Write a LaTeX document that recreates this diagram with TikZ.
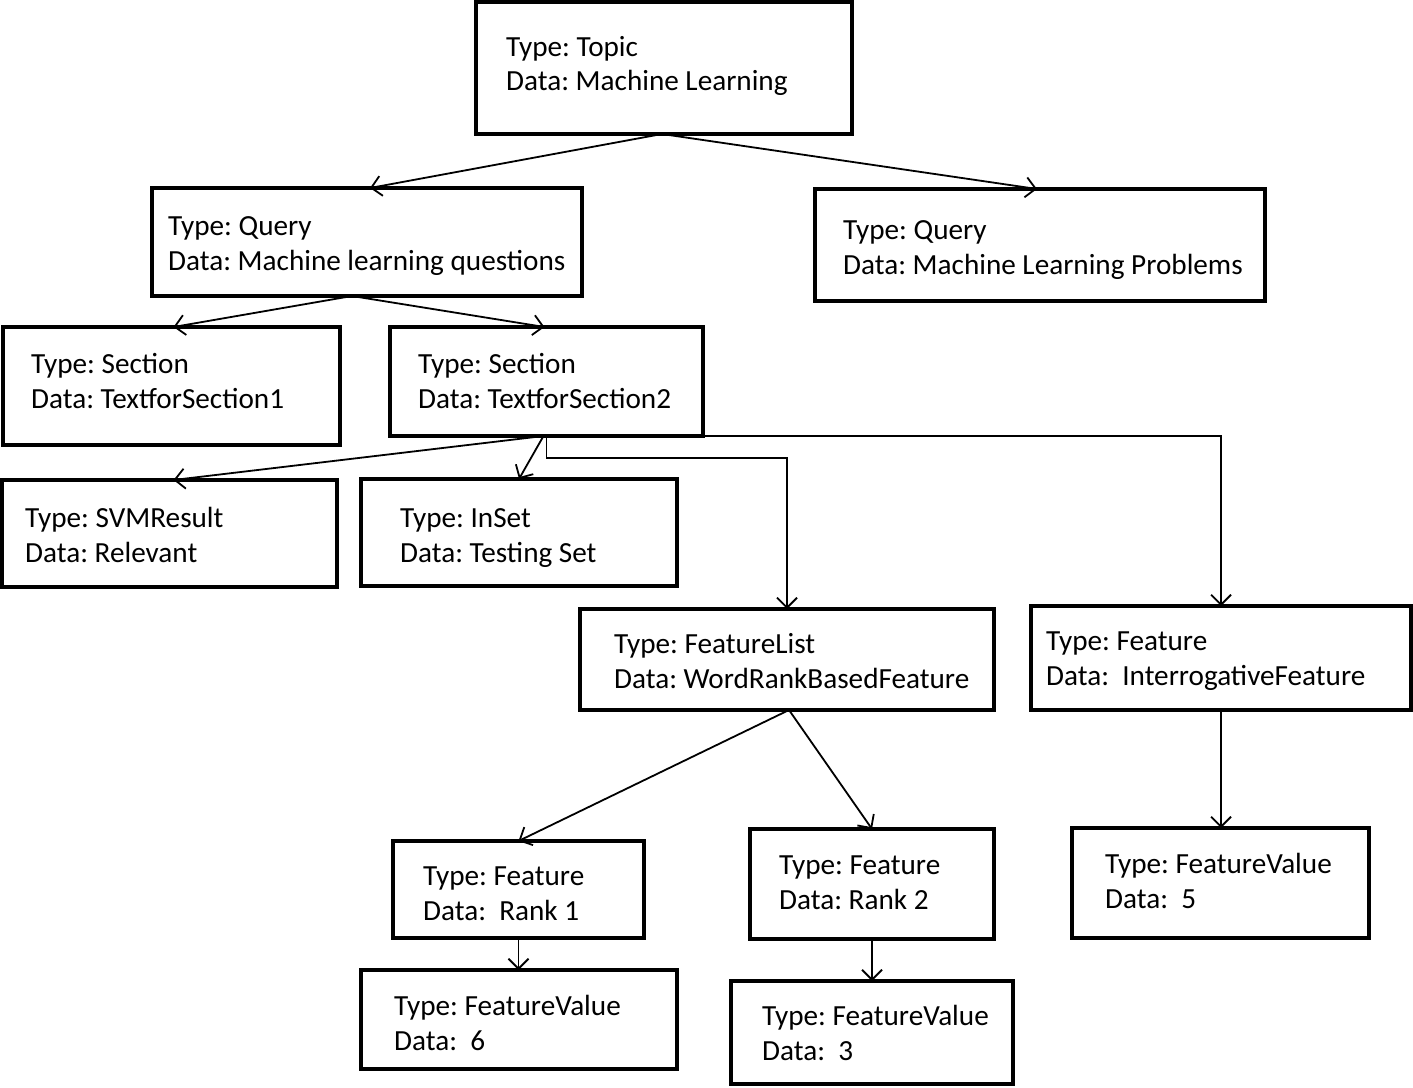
\documentclass[tikz,border=0pt]{standalone}
\usepackage{fontspec}
\setmainfont{Carlito}
\usetikzlibrary{calc,arrows.meta}
\frenchspacing
\begin{document}
\begin{tikzpicture}[x=1pt,y=-1pt,
  box/.style={draw,line width=3.8pt,rectangle,inner sep=0pt,outer sep=0pt},
  txt/.style={anchor=base west,align=left,inner sep=0pt,font=\frenchspacing\fontsize{29.2}{34.5}\selectfont},
  arr/.style={line width=1.8pt,-{Straight Barb[length=10pt,width=20pt,line width=1.8pt]}}]
\useasboundingbox (0,0) rectangle (1413,1087);
% boxes
\node[box,minimum width=376pt,minimum height=132pt] (topic) at (664,68) {};
\node[box,minimum width=430pt,minimum height=108pt] (q1) at (367,242) {};
\node[box,minimum width=450pt,minimum height=112pt] (q2) at (1040,245) {};
\node[box,minimum width=337pt,minimum height=118pt] (s1) at (171.5,386) {};
\node[box,minimum width=313pt,minimum height=109pt] (s2) at (546.5,381.5) {};
\node[box,minimum width=335pt,minimum height=107pt] (svm) at (169.5,533.5) {};
\node[box,minimum width=316pt,minimum height=107pt] (inset) at (519,532.5) {};
\node[box,minimum width=414pt,minimum height=101pt] (flist) at (787,659.5) {};
\node[box,minimum width=380pt,minimum height=104pt] (fint) at (1221,658) {};
\node[box,minimum width=251pt,minimum height=97pt] (r1) at (518.5,889.5) {};
\node[box,minimum width=244pt,minimum height=110pt] (r2) at (872,884) {};
\node[box,minimum width=297pt,minimum height=110pt] (fv5) at (1220.5,883) {};
\node[box,minimum width=316pt,minimum height=99pt] (fv6) at (519,1019.5) {};
\node[box,minimum width=282pt,minimum height=103pt] (fv3) at (872,1032.5) {};
% texts (anchor = baseline of the second line)
\node[txt] (ttopic) at (506,90.5) {Type: Topic\\Data: Machine Learning};
\node[txt] (tq1) at (168,270) {Type: Query\\Data: Machine learning questions};
\node[txt] (tq2) at (843,274) {Type: Query\\Data: Machine Learning Problems};
\node[txt] (ts1) at (31,408) {Type: Section\\Data: TextforSection1};
\node[txt] (ts2) at (418,408) {Type: Section\\Data: TextforSection2};
\node[txt] (tsvm) at (25,562) {Type: SVMResult\\Data: Relevant};
\node[txt] (tinset) at (400,562) {Type: InSet\\Data: Testing Set};
\node[txt] (tflist) at (614,688) {Type: FeatureList\\Data: WordRankBasedFeature};
\node[txt] (tfint) at (1046,685) {Type: Feature\\Data:~ InterrogativeFeature};
\node[txt] (tr1) at (423,920) {Type: Feature\\Data:~ Rank 1};
\node[txt] (tr2) at (779,909) {Type: Feature\\Data: Rank 2};
\node[txt] (tfv5) at (1105,908) {Type: FeatureValue\\Data:~ 5};
\node[txt] (tfv6) at (394,1050) {Type: FeatureValue\\Data:~ 6};
\node[txt] (tfv3) at (762,1060) {Type: FeatureValue\\Data:~ 3};
% connectors
\draw[arr] ($(topic.south)+(-2,0)$) -- ($(q1.north)+(3,0)$);
\draw[arr] ($(topic.south)+(-2,0)$) -- ($(q2.north)+(-3,0)$);
\draw[arr] ($(q1.south)+(-15,0)$) -- ($(s1.north)+(2,0)$);
\draw[arr] ($(q1.south)+(-15,0)$) -- ($(s2.north)+(-2,0)$);
\draw[arr] ($(s2.south)+(-3,0)$) -- ($(svm.north)+(4,0)$);
\draw[arr] ($(s2.south)+(-3,0)$) -- (inset.north);
\draw[arr] (s2.south) -- ++(0,22) -| (flist.north);
\draw[arr] (s2.south east) -| (fint.north);
\draw[arr] ($(flist.south)+(2,0)$) -- (r1.north);
\draw[arr] ($(flist.south)+(2,0)$) -- (r2.north);
\draw[arr] (fint.south) -- (fint.south |- fv5.north);
\draw[arr] (r1.south) -- (r1.south |- fv6.north);
\draw[arr] (r2.south) -- (r2.south |- fv3.north);
\end{tikzpicture}
\end{document}
